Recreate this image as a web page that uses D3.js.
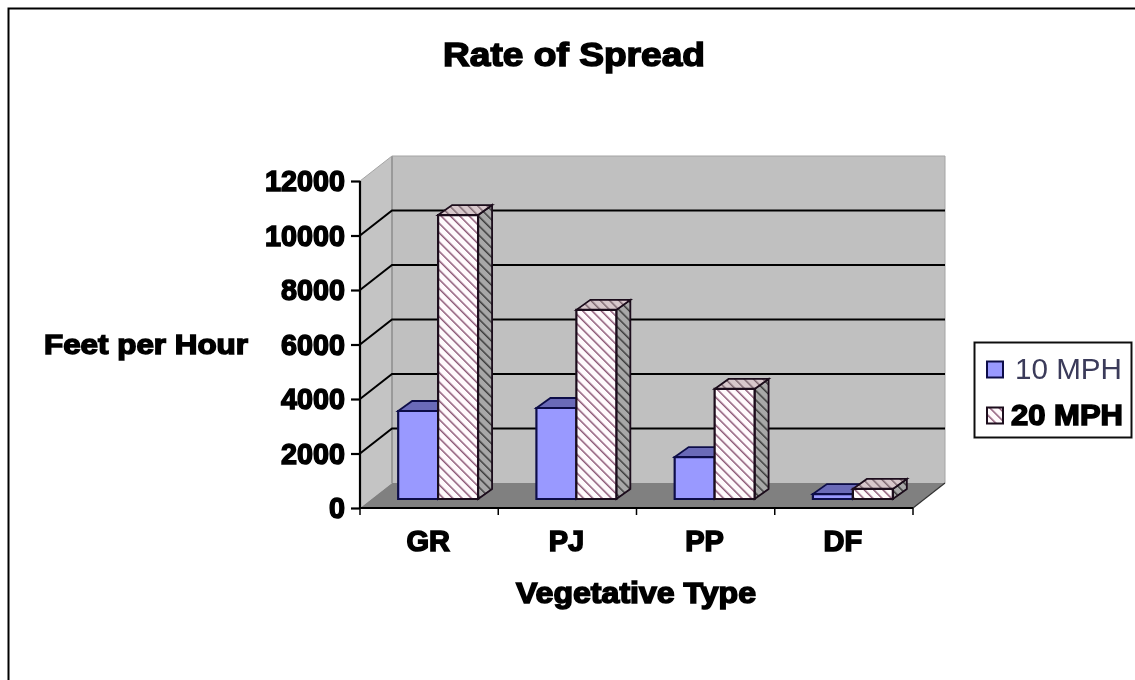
<!DOCTYPE html>
<html>
<head>
<meta charset="utf-8">
<script src="https://cdnjs.cloudflare.com/ajax/libs/d3/7.8.5/d3.min.js"></script>
<style>
  html, body { margin: 0; padding: 0; background: #fff; overflow: hidden; }
  text { font-family: "Liberation Sans", Arial, sans-serif; fill: #000; }
  .bold { font-weight: bold; stroke: #000; stroke-width: 1.5px; }
</style>
</head>
<body>
<svg id="chart"></svg>
<script>
// --------------------- data --------------------------
const categories = ["GR", "PJ", "PP", "DF"];
const seriesNames = ["10 MPH", "20 MPH"];
const mph10 = [3230, 3340, 1540, 180];
const mph20 = [10420, 6940, 4040, 370];
const yTicks = [0, 2000, 4000, 6000, 8000, 10000, 12000];

const width = 1135, height = 680;

// front edge of the 3D box, the back wall is the same thing shifted
const front = { left: 360, right: 913, bottom: 508, top: 181 };
const wallDx = 32, wallDy = -25;
const barDx = 14, barDy = -10;   // depth of a bar
const barOffsetX = 9;            // bars stand a bit behind the front edge
const barOffsetY = -9;

const svg = d3.select("#chart")
  .attr("width", width)
  .attr("height", height);

const defs = svg.append("defs");

// the reference is a soft jpeg, a tiny blur gets the same look
defs.append("filter").attr("id", "soft")
  .append("feGaussianBlur").attr("stdDeviation", 0.7);

function hatch(id, bg, fg) {
  const p = defs.append("pattern")
    .attr("id", id)
    .attr("width", 6.6).attr("height", 6.6)
    .attr("patternUnits", "userSpaceOnUse")
    .attr("patternTransform", "rotate(-45)");
  p.append("rect").attr("width", 6.6).attr("height", 6.6).attr("fill", bg);
  p.append("rect").attr("width", 1.5).attr("height", 6.6).attr("fill", fg);
}
hatch("hatchFront", "#fffafc", "#8e5a78");
hatch("hatchTop", "#d8c8cc", "#7f6a72");
hatch("hatchSide", "#a8a8a8", "#3c3c3c");

const root = svg.append("g").attr("filter", "url(#soft)");

// scales
const xScale = d3.scaleBand()
  .domain(categories)
  .range([front.left, front.right]);

const seriesScale = d3.scaleBand()
  .domain(seriesNames)
  .range([0, xScale.bandwidth()])
  .paddingInner(0)
  .paddingOuter(0.73);

const yScale = d3.scaleLinear()
  .domain([0, 12000])
  .range([front.bottom, front.top]);

// outer border, only the top and left edges are in the picture
root.append("path")
  .attr("d", "M8.5,690V8.5H1145")
  .attr("fill", "none")
  .attr("stroke", "#000")
  .attr("stroke-width", 2);

// ---------------------- walls ---------------------------
const yTop = yScale(12000), yBottom = yScale(0);
const L = front.left, R = front.right;

function poly(points, fill, stroke) {
  return root.append("polygon")
    .attr("points", points.map(p => p.join(",")).join(" "))
    .attr("fill", fill)
    .attr("stroke", stroke || "none");
}

// back wall
poly([[L + wallDx, yTop + wallDy], [R + wallDx, yTop + wallDy], [R + wallDx, yBottom + wallDy], [L + wallDx, yBottom + wallDy]], "#c0c0c0");
// left wall
poly([[L, yTop], [L + wallDx, yTop + wallDy], [L + wallDx, yBottom + wallDy], [L, yBottom]], "#c4c4c4");
// floor
poly([[L, yBottom], [L + wallDx, yBottom + wallDy], [R + wallDx, yBottom + wallDy], [R, yBottom]], "#808080");

// wall edges
root.append("line")
  .attr("x1", L + wallDx).attr("x2", L + wallDx)
  .attr("y1", yTop + wallDy).attr("y2", yBottom + wallDy)
  .attr("stroke", "#8c8c8c").attr("stroke-width", 1.5);
root.append("path")
  .attr("d", `M${L},${yTop}L${L + wallDx},${yTop + wallDy}H${R + wallDx}V${yBottom + wallDy}`)
  .attr("fill", "none")
  .attr("stroke", "#a4a4a4").attr("stroke-width", 1);

// gridlines on both walls
yTicks.filter(d => d > 0 && d < 12000).forEach(d => {
  root.append("path")
    .attr("d", `M${L},${yScale(d)}L${L + wallDx},${yScale(d) + wallDy}H${R + wallDx}`)
    .attr("fill", "none")
    .attr("stroke", "#000")
    .attr("stroke-width", 2);
});

// floor edge on the right
root.append("line")
  .attr("x1", R).attr("x2", R + wallDx)
  .attr("y1", yBottom).attr("y2", yBottom + wallDy)
  .attr("stroke", "#333").attr("stroke-width", 1.2);

// ---------------------- axes ---------------------------
const yAxis = root.append("g")
  .attr("transform", "translate(" + L + ",0)")
  .call(d3.axisLeft(yScale).tickValues(yTicks).tickSize(9).tickPadding(6).tickFormat(d3.format("d")));
yAxis.selectAll("text")
  .attr("class", "bold")
  .style("font-size", "30px")
  .attr("textLength", d => String(d).length * 16)
  .attr("lengthAdjust", "spacingAndGlyphs");
yAxis.selectAll("line, path").attr("stroke", "#000").attr("stroke-width", 2.2);
yAxis.select(".domain").attr("d", `M0,${yTop}V${yBottom}`);

// category axis, the ticks sit on the band edges
const xEdges = categories.map(c => xScale(c)).concat([front.right]);
const xAxis = root.append("g")
  .attr("transform", "translate(0," + yBottom + ")");
xAxis.append("line")
  .attr("x1", L).attr("x2", R)
  .attr("stroke", "#000").attr("stroke-width", 2.2);
xAxis.selectAll(".edge")
  .data(xEdges)
  .join("line")
  .attr("class", "edge")
  .attr("x1", d => d).attr("x2", d => d)
  .attr("y1", 0).attr("y2", 7)
  .attr("stroke", "#000").attr("stroke-width", 1.5);
xAxis.selectAll(".cat")
  .data(categories)
  .join("text")
  .attr("class", "cat bold")
  .attr("x", d => xScale(d) + xScale.bandwidth() / 2 - 1)
  .attr("y", 43)
  .attr("text-anchor", "middle")
  .style("font-size", "29px")
  .text(d => d);

// ---------------------- bars ---------------------------
const outline = ["#10104a", "#1a0a1a"];
const barGroups = [
  { name: seriesNames[0], values: mph10, front: "#9999ff", top: "#6a6ab8", side: "#4a4a90" },
  { name: seriesNames[1], values: mph20, front: "url(#hatchFront)", top: "url(#hatchTop)", side: "url(#hatchSide)" }
];

categories.forEach((cat, c) => {
  barGroups.forEach((s, i) => {
    const x0 = xScale(cat) + seriesScale(s.name) + barOffsetX;
    const x1 = x0 + seriesScale.bandwidth();
    const yb = yBottom + barOffsetY;
    const yt = yScale(s.values[c]) + barOffsetY;
    const stroke = outline[i];
    // side, top, front
    poly([[x1, yt], [x1 + barDx, yt + barDy], [x1 + barDx, yb + barDy], [x1, yb]], s.side, stroke).attr("stroke-width", 1.8);
    poly([[x0, yt], [x0 + barDx, yt + barDy], [x1 + barDx, yt + barDy], [x1, yt]], s.top, stroke).attr("stroke-width", 1.8);
    poly([[x0, yt], [x1, yt], [x1, yb], [x0, yb]], s.front, stroke).attr("stroke-width", 2.2);
  });
});

// ---------------------- titles ---------------------------
function stretched(label, x, y, size, len) {
  return root.append("text")
    .attr("class", "bold")
    .attr("x", x).attr("y", y)
    .attr("text-anchor", "middle")
    .attr("textLength", len)
    .attr("lengthAdjust", "spacingAndGlyphs")
    .style("font-size", size + "px")
    .text(label);
}
stretched("Rate of Spread", 574, 66, 34, 262);
stretched("Feet per Hour", 146, 354, 28, 204);
stretched("Vegetative Type", 636, 603, 29, 240);

// ---------------------- legend ---------------------------
root.append("rect")
  .attr("x", 974.5).attr("y", 342.5)
  .attr("width", 157).attr("height", 95)
  .attr("fill", "#fff")
  .attr("stroke", "#111").attr("stroke-width", 2);

const legend = root.selectAll(".legend")
  .data(barGroups)
  .join("g")
  .attr("class", "legend")
  .attr("transform", (d, i) => "translate(987," + (369.5 + i * 46) + ")");
legend.append("rect")
  .attr("x", 0).attr("y", -8)
  .attr("width", 16).attr("height", 16)
  .attr("fill", d => d.front)
  .attr("stroke", (d, i) => outline[i])
  .attr("stroke-width", 2);
legend.append("text")
  .attr("x", (d, i) => i === 0 ? 28 : 24)
  .attr("y", (d, i) => i === 0 ? 9 : 9.5)
  .attr("class", (d, i) => i === 1 ? "bold" : null)
  .attr("textLength", (d, i) => i === 0 ? 107 : 112)
  .attr("lengthAdjust", "spacingAndGlyphs")
  .style("font-size", "29px")
  .style("fill", (d, i) => i === 0 ? "#3a3a5a" : "#000")
  .text(d => d.name);
</script>
</body>
</html>
